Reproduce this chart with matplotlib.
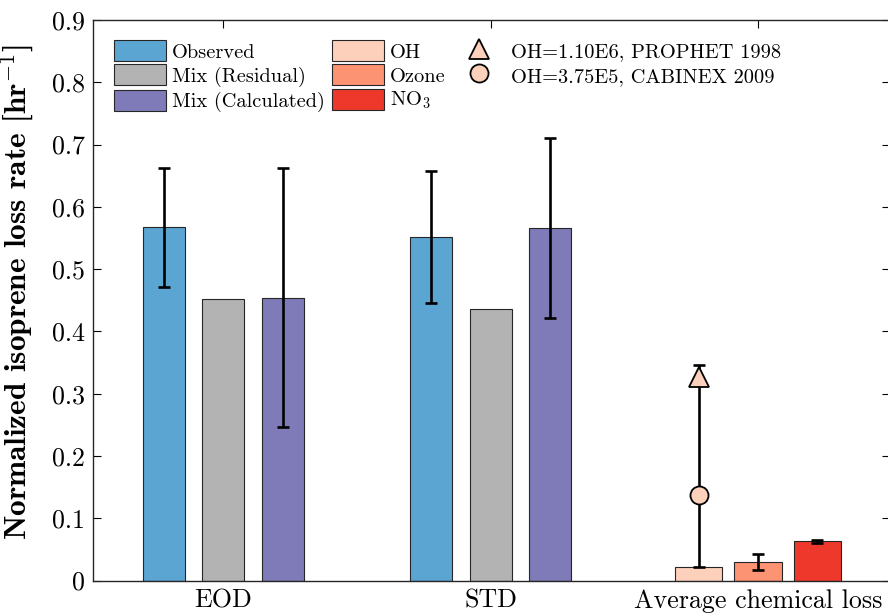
import numpy as np
import matplotlib
matplotlib.use("Agg")
from matplotlib import pyplot as plt
from matplotlib.patches import Patch
from matplotlib.lines import Line2D

plt.rcParams['font.family'] = 'cmr10'
plt.rcParams['mathtext.fontset'] = 'cm'
plt.rcParams['axes.formatter.use_mathtext'] = True

# loss rates (hr^-1) for the two sites
groups = ['EOD', 'STD', 'Average chemical loss']
observed = [0.567, 0.552]
observed_err = [0.096, 0.106]
mix_residual = [0.452, 0.436]
mix_calc = [0.454, 0.566]
mix_calc_err = [0.208, 0.145]

# average chemical loss terms
chem_names = ['OH', 'Ozone', 'NO$_3$']
chem_loss = [0.022, 0.030, 0.063]
chem_err = [0.0, 0.0125, 0.0025]
oh_range = [0.022, 0.346]       # span of OH loss for different OH levels
oh_prophet = 0.327              # OH=1.10E6
oh_cabinex = 0.137              # OH=3.75E5

c_obs = '#5ba5d3'
c_res = '#b3b3b3'
c_calc = '#7f7bb8'
c_chem = ['#fdd0bc', '#fc9373', '#ee382b']
edge = '#262626'

fig = plt.figure(figsize=(8.88, 6.15), dpi=100)
ax = fig.add_axes([93/888, 34.4/615, 797/888, 560.6/615])

x = np.arange(1, 3)
w = 0.157
off = 0.2225
ekw = dict(fmt='none', ecolor='k', elinewidth=1.9, capsize=4.5, capthick=1.9, zorder=4)

ax.bar(x - off, observed, w, color=c_obs, edgecolor=edge, linewidth=0.8, zorder=2)
ax.bar(x, mix_residual, w, color=c_res, edgecolor=edge, linewidth=0.8, zorder=2)
ax.bar(x + off, mix_calc, w, color=c_calc, edgecolor=edge, linewidth=0.8, zorder=2)
ax.errorbar(x - off, observed, yerr=observed_err, **ekw)
ax.errorbar(x + off, mix_calc, yerr=mix_calc_err, **ekw)

# chemical loss bars around x=3
wc = 0.178
xc = 3 + np.array([-1, 0, 1]) * 0.222
ax.bar(xc, chem_loss, wc, color=c_chem, edgecolor=edge, linewidth=0.8, zorder=2)
ax.errorbar(xc[1:], chem_loss[1:], yerr=chem_err[1:], **ekw)
mid = (oh_range[0] + oh_range[1]) / 2
ax.errorbar([xc[0]], [mid], yerr=[[mid - oh_range[0]], [oh_range[1] - mid]], **ekw)
ax.plot(xc[0], oh_prophet, '^', ms=14, mfc=c_chem[0], mec='k', mew=1.3, zorder=5)
ax.plot(xc[0], oh_cabinex, 'o', ms=13, mfc=c_chem[0], mec='k', mew=1.3, zorder=5)

ax.set_xlim(0.512, 3.494)
ax.set_ylim(0, 0.9)
ax.set_xticks([1, 2, 3])
ax.set_xticklabels(groups)
ax.set_yticks(np.arange(0, 0.91, 0.1))
ax.set_yticklabels(['0'] + ['%.1f' % v for v in np.arange(0.1, 0.91, 0.1)])
ax.tick_params(direction='in', top=True, right=True, length=6, width=0.8, labelsize=18.7, pad=6)
for s in ax.spines.values():
    s.set_linewidth(1.0)
    s.set_color('#262626')
ax.set_ylabel(r'Normalized isoprene loss rate [hr$^{-1}$]', fontfamily='cmb10', fontsize=22.5)
ax.yaxis.set_label_coords(-0.071, 0.515)

handles = [Patch(facecolor=c_obs, edgecolor=edge, linewidth=0.8),
           Patch(facecolor=c_res, edgecolor=edge, linewidth=0.8),
           Patch(facecolor=c_calc, edgecolor=edge, linewidth=0.8)]
handles += [Patch(facecolor=c, edgecolor=edge, linewidth=0.8) for c in c_chem]
handles += [Line2D([], [], ls='none', marker='^', ms=14, mfc=c_chem[0], mec='k', mew=1.3),
            Line2D([], [], ls='none', marker='o', ms=13, mfc=c_chem[0], mec='k', mew=1.3)]
labels = ['Observed', 'Mix (Residual)', 'Mix (Calculated)'] + chem_names + \
         ['OH=1.10E6, PROPHET 1998', 'OH=3.75E5, CABINEX 2009']
ax.legend(handles, labels, ncol=3, loc='upper left', bbox_to_anchor=(0.026, 0.964),
          frameon=False, fontsize=14.7, handlelength=2.55, handleheight=1.2,
          handletextpad=0.3, columnspacing=0.35, labelspacing=0.14, borderpad=0, borderaxespad=0)

plt.savefig('out.png', dpi=100)
